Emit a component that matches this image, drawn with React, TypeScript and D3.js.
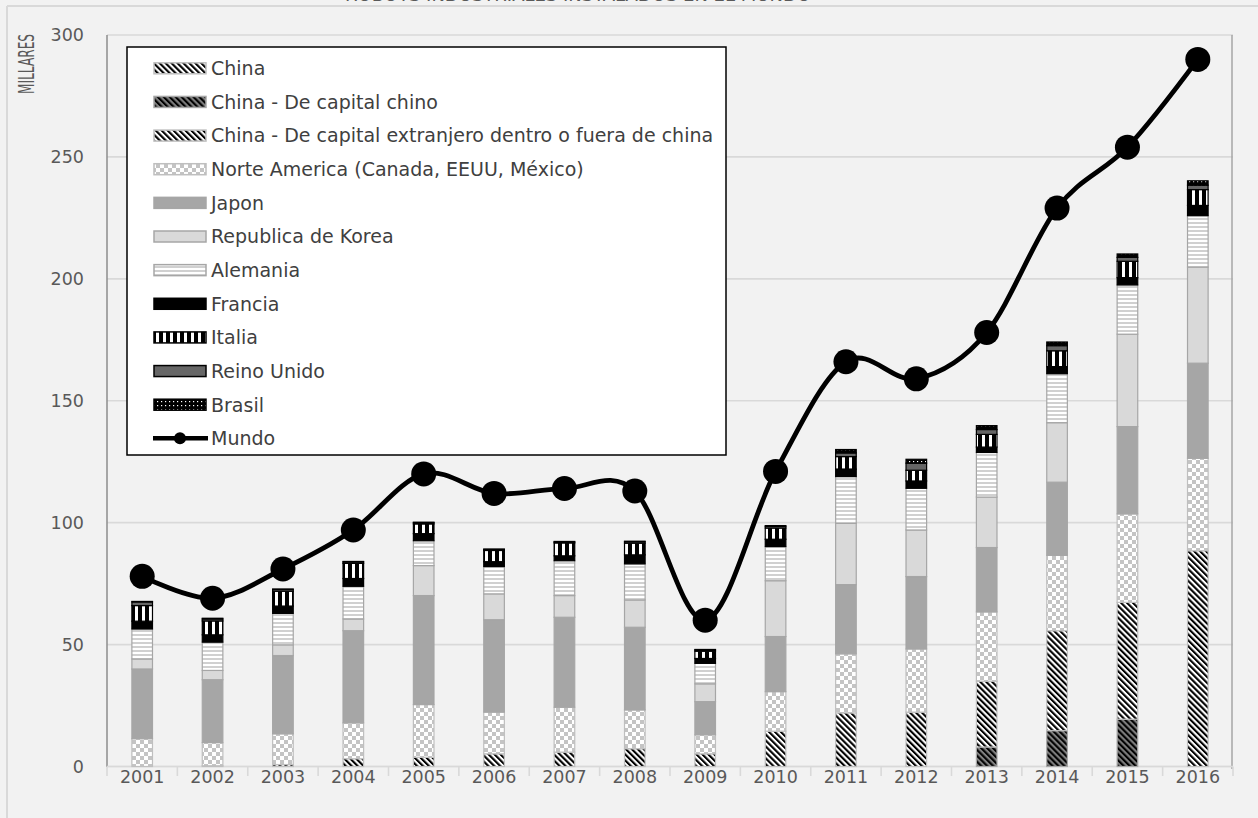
import React from "react";
import * as d3 from "d3";

const years = ["2001","2002","2003","2004","2005","2006","2007","2008","2009","2010","2011","2012","2013","2014","2015","2016"];

const china      = [0, 0.3, 0.8, 3.2, 3.8, 5.2, 5.9, 7.3, 5.2, 14.5, 22.0, 22.3, 0, 0, 0, 88.5];
const chinaChino = [0, 0, 0, 0, 0, 0, 0, 0, 0, 0, 0, 0, 8.0, 14.7, 19.4, 0];
const chinaExt   = [0, 0, 0, 0, 0, 0, 0, 0, 0, 0, 0, 0, 27.0, 41.0, 47.9, 0];
const norteAmerica = [11.4, 9.5, 12.6, 14.7, 21.6, 17.1, 18.4, 15.9, 7.8, 16.2, 24.2, 25.9, 28.4, 30.9, 36.3, 37.9];
const japon     = [28.6, 25.8, 32.1, 37.8, 44.7, 37.9, 36.9, 33.9, 13.6, 22.6, 28.4, 29.7, 26.4, 30.0, 35.8, 39.0];
const korea     = [4.1, 3.8, 4.4, 4.8, 12.3, 10.6, 8.9, 11.2, 7.3, 22.9, 25.1, 19.1, 20.7, 24.4, 37.9, 39.4];
const alemania  = [12.3, 11.6, 12.9, 13.4, 10.2, 11.2, 14.3, 14.8, 8.4, 14.0, 19.2, 17.1, 18.3, 20.1, 20.2, 21.1];
const francia   = [3.2, 3.0, 3.0, 3.2, 2.9, 2.0, 2.0, 3.7, 2.0, 3.0, 3.1, 3.0, 2.2, 2.9, 3.0, 4.2];
const italia    = [6.4, 5.7, 6.1, 6.2, 4.0, 4.6, 5.3, 4.8, 3.0, 4.6, 5.1, 4.4, 5.2, 6.5, 6.7, 6.5];
const reinoUnido = [1.5, 0.8, 0.7, 0.6, 0.5, 0.4, 0.4, 0.6, 0.5, 0.7, 1.5, 2.9, 2.0, 2.1, 1.6, 1.8];
const brasil    = [0.2, 0.3, 0.2, 0.2, 0.2, 0.2, 0.2, 0.2, 0.2, 0.3, 1.4, 1.6, 1.6, 1.5, 1.4, 1.8];
const mundo     = [78, 69, 81, 97, 120, 112, 114, 113, 60, 121, 166, 159, 178, 229, 254, 290];

const yTicks = [0, 50, 100, 150, 200, 250, 300];

const seriesKeys = ["china","chinaChino","chinaExt","norteAmerica","japon","korea","alemania","francia","italia","reinoUnido","brasil"];
const seriesNames = [
  "China",
  "China - De capital chino",
  "China - De capital extranjero dentro o fuera de china",
  "Norte America (Canada, EEUU, México)",
  "Japon",
  "Republica de Korea",
  "Alemania",
  "Francia",
  "Italia",
  "Reino Unido",
  "Brasil",
];
const mundoName = "Mundo";
const titleText = "ROBOTS INDUSTRIALES INSTALADOS EN EL MUNDO";
const yAxisTitle = "MILLARES";

const seriesStyle: Record<string, { fill: string; stroke: string }> = {
  china: { fill: "url(#patChina)", stroke: "#bfbfbf" },
  chinaChino: { fill: "url(#patChino)", stroke: "#a6a6a6" },
  chinaExt: { fill: "url(#patChina)", stroke: "#bfbfbf" },
  norteAmerica: { fill: "url(#patNA)", stroke: "#bfbfbf" },
  japon: { fill: "#a6a6a6", stroke: "#a6a6a6" },
  korea: { fill: "#d9d9d9", stroke: "#a6a6a6" },
  alemania: { fill: "url(#patAle)", stroke: "#a6a6a6" },
  francia: { fill: "#000000", stroke: "#000000" },
  italia: { fill: "url(#patIta)", stroke: "#000000" },
  reinoUnido: { fill: "#666666", stroke: "#000000" },
  brasil: { fill: "url(#patBra)", stroke: "#000000" },
};

const FONT = "'DejaVu Sans', Verdana, sans-serif";

export default function App() {
  const W = 1258, H = 818;
  const x = d3.scaleBand<string>().domain(years).range([107, 1233]).padding(0);
  const y = d3.scaleLinear().domain([0, 300]).range([766.5, 35]);
  const barW = 20.6;
  const cx = (yr: string) => (x(yr) as number) + x.bandwidth() / 2;

  const cols: Record<string, number[]> = {
    china, chinaChino, chinaExt, norteAmerica, japon, korea, alemania, francia, italia, reinoUnido, brasil,
  };
  const table = years.map((yr, i) => {
    const row: Record<string, any> = { year: yr };
    seriesKeys.forEach((k) => (row[k] = cols[k][i]));
    return row;
  });
  const stacked = d3.stack<any>().keys(seriesKeys)(table);

  const line = d3
    .line<number>()
    .x((_, i) => cx(years[i]))
    .y((d) => y(d))
    .curve(d3.curveCardinal.tension(0));

  const legX = 127, legY = 47, legW = 599, legH = 408;
  const rowY = (i: number) => 68.3 + i * 33.64;

  return (
    <svg width={W} height={H} style={{ position: "absolute", left: 0, top: 0, background: "#f2f2f2" }}>
      <defs>
        <pattern id="patChina" width="4.2" height="4.2" patternUnits="userSpaceOnUse" patternTransform="rotate(-45)">
          <rect width="4.2" height="4.2" fill="#ffffff" />
          <rect width="2.1" height="4.2" fill="#000000" />
        </pattern>
        <pattern id="patChino" width="4.2" height="4.2" patternUnits="userSpaceOnUse" patternTransform="rotate(-45)">
          <rect width="4.2" height="4.2" fill="#7f7f7f" />
          <rect width="2.1" height="4.2" fill="#000000" />
        </pattern>
        <pattern id="patNA" width="8" height="8" patternUnits="userSpaceOnUse">
          <rect width="8" height="8" fill="#ffffff" />
          <rect width="4" height="4" fill="#c4c4c4" />
          <rect x="4" y="4" width="4" height="4" fill="#c4c4c4" />
        </pattern>
        <pattern id="patAle" width="8" height="4" patternUnits="userSpaceOnUse">
          <rect width="8" height="4" fill="#ffffff" />
          <rect y="2" width="8" height="2" fill="#d0d0d0" />
        </pattern>
        <pattern id="patIta" width="7" height="7" patternUnits="userSpaceOnUse">
          <rect width="7" height="7" fill="#000000" />
          <rect x="2" width="3" height="7" fill="#ffffff" />
        </pattern>
        <pattern id="patBra" width="4" height="4" patternUnits="userSpaceOnUse">
          <rect width="4" height="4" fill="#000000" />
          <rect x="1" y="1" width="1.2" height="1.2" fill="#ffffff" />
        </pattern>
      </defs>

      <rect x={0} y={0} width={W} height={H} fill="#f2f2f2" />

      {/* title, cut off at the top edge as in the reference */}
      <text x={578} y={1.2} textAnchor="middle" fontFamily={FONT} fontSize={18} fill="#595959">
        {titleText}
      </text>

      {/* outer chart border */}
      <line x1={7} x2={W} y1={6} y2={6} stroke="#d9d9d9" strokeWidth={2} />
      <line x1={7} x2={7} y1={6} y2={H} stroke="#d9d9d9" strokeWidth={2} />

      {/* gridlines */}
      {yTicks.map((t) => (
        <line key={"g" + t} x1={107} x2={1233} y1={y(t)} y2={y(t)} stroke="#d9d9d9" strokeWidth={1.6} />
      ))}

      {/* y axis labels */}
      {yTicks.map((t) => (
        <text key={"yl" + t} x={84} y={y(t)} dy="0.36em" textAnchor="end" fontFamily={FONT} fontSize={17.5} fill="#595959">
          {t}
        </text>
      ))}
      <text
        transform={`translate(34, 64) rotate(-90)`}
        textAnchor="middle"
        fontFamily={FONT}
        fontSize={21}
        fill="#595959"
        textLength={60}
        lengthAdjust="spacingAndGlyphs"
      >
        {yAxisTitle}
      </text>

      {/* axes lines */}
      <line x1={107} x2={107} y1={35} y2={767} stroke="#8c8c8c" strokeWidth={1.5} />
      <line x1={1232} x2={1232} y1={35} y2={769} stroke="#a6a6a6" strokeWidth={1.5} />
      <line x1={107} x2={1233} y1={766.5} y2={766.5} stroke="#d9d9d9" strokeWidth={1.6} />
      {years.map((yr) => (
        <line key={"xt" + yr} x1={x(yr) as number} x2={x(yr) as number} y1={766.5} y2={776} stroke="#d9d9d9" strokeWidth={1.6} />
      ))}
      <line x1={1233} x2={1233} y1={766.5} y2={776} stroke="#d9d9d9" strokeWidth={1.6} />

      {/* x labels */}
      {years.map((yr) => (
        <text key={"xl" + yr} x={cx(yr)} y={783} textAnchor="middle" fontFamily={FONT} fontSize={17.5} fill="#595959">
          {yr}
        </text>
      ))}

      {/* stacked bars */}
      {stacked.map((s) => (
        <g key={s.key}>
          {s.map((d, i) => {
            const h = y(d[0]) - y(d[1]);
            if (h <= 0.01) return null;
            const st = seriesStyle[s.key];
            return (
              <rect
                key={i}
                x={cx(years[i]) - barW / 2}
                y={y(d[1])}
                width={barW}
                height={h}
                fill={st.fill}
                stroke={st.stroke}
                strokeWidth={1.2}
              />
            );
          })}
        </g>
      ))}

      {/* Mundo line */}
      <path d={line(mundo) as string} fill="none" stroke="#000" strokeWidth={4.8} />
      {mundo.map((v, i) => (
        <circle key={"m" + i} cx={cx(years[i])} cy={y(v)} r={12.5} fill="#000" />
      ))}

      {/* legend */}
      <rect x={legX} y={legY} width={legW} height={legH} fill="#ffffff" stroke="#000" strokeWidth={1.5} />
      {seriesKeys.map((k, i) => {
        const st = seriesStyle[k];
        const ry = rowY(i);
        return (
          <g key={"lg" + k}>
            <rect x={154} y={ry - 5.5} width={52} height={11} fill={st.fill} stroke={st.stroke} strokeWidth={1.5} />
            <text x={211} y={ry} dy="0.36em" fontFamily={FONT} fontSize={19} fill="#404040">
              {seriesNames[i]}
            </text>
          </g>
        );
      })}
      <g>
        <line x1={153} x2={208} y1={rowY(11)} y2={rowY(11)} stroke="#000" strokeWidth={4.5} />
        <circle cx={180} cy={rowY(11)} r={6} fill="#000" />
        <text x={211} y={rowY(11)} dy="0.36em" fontFamily={FONT} fontSize={19} fill="#404040">
          {mundoName}
        </text>
      </g>
    </svg>
  );
}
